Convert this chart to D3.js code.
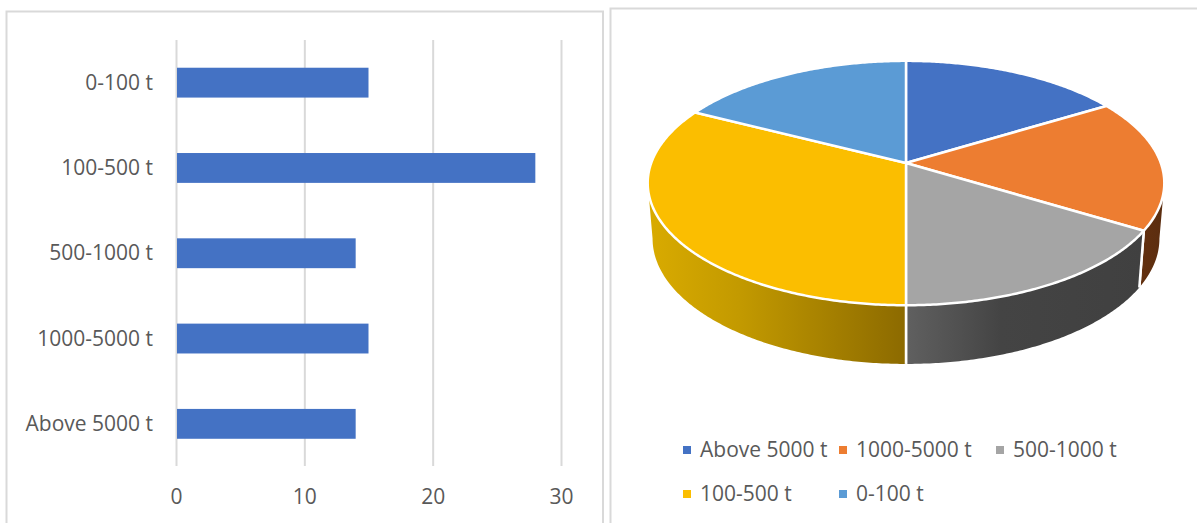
<!DOCTYPE html>
<html><head><meta charset="utf-8">
<script src="https://cdn.jsdelivr.net/npm/d3@7/dist/d3.min.js"></script>
<style>html,body{margin:0;padding:0;background:#fff}svg{display:block}text{font-family:"Open Sans",sans-serif;fill:#595959}</style>
</head><body><svg id="c" width="1197" height="523"></svg>
<script>
const categories = ["Above 5000 t","1000-5000 t","500-1000 t","100-500 t","0-100 t"];
const values = [14,15,14,28,15];
const pieColors = ["#4472C4","#ED7D31","#A5A5A5","#FBBE00","#5B9BD5"];
const xTicks = [0,10,20,30];

const svg = d3.select("#c");
const FS = 21;
// panels
const border = "#d9d9d9";
svg.append("path").attr("d","M6.5,523V11.5H603V523").attr("fill","none").attr("stroke",border).attr("stroke-width",2);
svg.append("path").attr("d","M610.5,523V8.5H1197").attr("fill","none").attr("stroke",border).attr("stroke-width",2);

// bar chart
const x = d3.scaleLinear().domain([0,30]).range([176,561]);
const y = d3.scaleBand().domain(categories).range([466.5,40]).paddingInner(0.65).paddingOuter(0.325);
const gx = svg.append("g").attr("transform","translate(0,466)")
  .call(d3.axisBottom(x).tickValues(xTicks).tickSize(-426).tickPadding(23));
gx.select(".domain").remove();
gx.selectAll("line").attr("stroke",border).attr("stroke-width",2);
gx.selectAll("text").attr("font-size",FS).style("font-family",'"Open Sans",sans-serif').attr("fill","#595959");
svg.selectAll("rect.bar").data(categories).join("rect").attr("class","bar")
  .attr("x",x(0)+1).attr("y",d=>y(d)).attr("height",y.bandwidth())
  .attr("width",(d,i)=>x(values[i])-x(0)-1).attr("fill","#4472C4");
const gy = svg.append("g").attr("transform","translate(176,0.5)")
  .call(d3.axisLeft(y).tickSize(0).tickPadding(23));
gy.select(".domain").remove();
gy.selectAll("text").attr("font-size",FS).style("font-family",'"Open Sans",sans-serif').attr("fill","#595959");

// 3D pie: projective map of a unit circle
const k = 0.164;
const top3d = {cx:906, cy:163, A:254.8, B:118.9};
const low3d = {cx:906, cy:218, A:250, B:122};
const proj = (f,t)=>{const d=1+k*Math.cos(t);return [f.cx+f.A*Math.sin(t)/d, f.cy-f.B*Math.cos(t)/d];};
const samples = (a,b)=>{const n=Math.max(2,Math.ceil(Math.abs(b-a)/0.01));return d3.range(n+1).map(i=>a+(b-a)*i/n);};
const line = d3.line();
const arcs = d3.pie().sort(null)(values);
const defs = svg.append("defs");
const lg = (id,x1,x2,stops)=>{const g=defs.append("linearGradient").attr("id",id).attr("gradientUnits","userSpaceOnUse")
  .attr("x1",x1).attr("x2",x2).attr("y1",0).attr("y2",0);
  stops.forEach(s=>g.append("stop").attr("offset",s[0]).attr("stop-color",s[1]));};
lg("wGold",648,906,[[0,"#D9AB00"],[0.35,"#C39A00"],[1,"#8C6A00"]]);
lg("wGrey",906,1144,[[0,"#606060"],[0.4,"#444444"],[1,"#404040"]]);
lg("wBrown",1140,1166,[[0,"#63300F"],[1,"#5A2D10"]]);
const wallFill = ["none","url(#wBrown)","url(#wGrey)","url(#wGold)","none"];
const limR = Math.acos(-k), limL = 2*Math.PI-limR;
arcs.forEach((a,i)=>{
  if(wallFill[i]==="none")return;
  const s=Math.max(a.startAngle,limR), e=Math.min(a.endAngle,limL);
  const ts=samples(s,e);
  const pts=ts.map(t=>proj(top3d,t)).concat(ts.slice().reverse().map(t=>proj(low3d,t)));
  svg.append("path").attr("d",line(pts)+"Z").attr("fill",wallFill[i]);
  // slice dividers on the wall
  [a.startAngle,a.endAngle].filter(t=>t>limR&&t<limL).forEach(t=>{
    svg.append("path").attr("d",line([proj(top3d,t),proj(low3d,t)])).attr("stroke","#fff").attr("stroke-width",2.5).attr("fill","none");
  });
});
arcs.forEach((a,i)=>{
  const pts=[[top3d.cx,top3d.cy]].concat(samples(a.startAngle,a.endAngle).map(t=>proj(top3d,t)));
  svg.append("path").attr("d",line(pts)+"Z").attr("fill",pieColors[i]).attr("stroke","#fff").attr("stroke-width",2.5).attr("stroke-linejoin","round");
});

// legend
const legendCols = [683,839,996,683,839];
const legendRows = [450,450,450,494,494];
const lgd = svg.append("g").selectAll("g").data(categories).join("g")
  .attr("transform",(d,i)=>`translate(${legendCols[i]},${legendRows[i]})`);
lgd.append("rect").attr("y",-4).attr("width",8).attr("height",8).attr("fill",(d,i)=>pieColors[i]);
lgd.append("text").attr("x",17).attr("dy","0.35em").attr("font-size",FS).text(d=>d);
</script></body></html>
